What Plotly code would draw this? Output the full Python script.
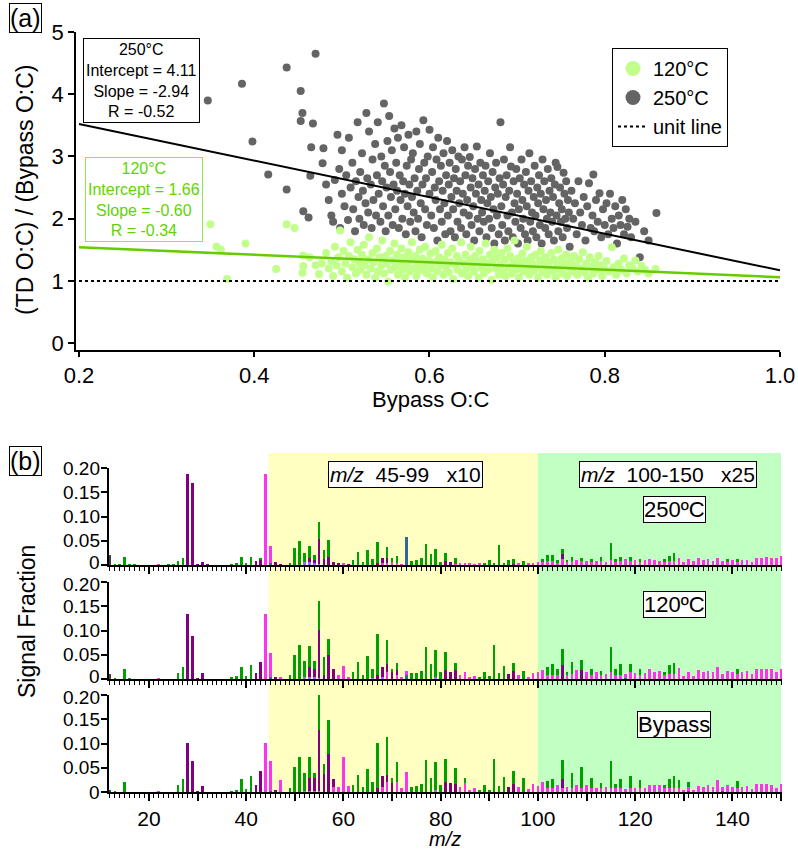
import plotly.graph_objects as go

# ---------------- panel (a): ratio of O:C vs bypass O:C ----------------
pts_250 = [
    (0.347, 3.90), (0.386, 4.17), (0.398, 3.24), (0.416, 2.71), (0.437, 4.43), (0.437, 2.47),
    (0.453, 4.05), (0.455, 3.70), (0.453, 3.57), (0.467, 3.53), (0.470, 4.65), (0.465, 3.15),
    (0.479, 3.13), (0.478, 2.89), (0.456, 2.12), (0.462, 2.02), (0.464, 2.69),
    (0.482, 2.55), (0.485, 2.30), (0.488, 2.05), (0.490, 1.95), (0.492, 2.62), (0.495, 3.35),
    (0.497, 2.80), (0.498, 1.85), (0.500, 2.40), (0.500, 3.10),
    (0.503, 2.20), (0.505, 2.70), (0.507, 1.98), (0.508, 3.30), (0.510, 2.50), (0.512, 2.90),
    (0.513, 2.15), (0.515, 1.80), (0.516, 2.60), (0.518, 3.55), (0.519, 2.35), (0.520, 2.00),
    (0.521, 2.75), (0.523, 3.05), (0.524, 2.45), (0.525, 1.90), (0.527, 2.25), (0.528, 3.70),
    (0.529, 2.65), (0.530, 2.10), (0.531, 3.40), (0.533, 2.55), (0.534, 1.85), (0.535, 2.95),
    (0.536, 2.30), (0.538, 3.20), (0.539, 2.05), (0.540, 2.70),
    (0.541, 3.55), (0.542, 2.40), (0.544, 1.95), (0.545, 3.00), (0.546, 2.60), (0.547, 2.20),
    (0.548, 3.85), (0.549, 2.85), (0.550, 1.80), (0.551, 2.50), (0.552, 3.25), (0.553, 2.05),
    (0.554, 3.65), (0.555, 2.75), (0.556, 2.35), (0.557, 3.10), (0.558, 1.90), (0.559, 2.55),
    (0.560, 3.45), (0.561, 2.15), (0.562, 2.90), (0.563, 2.45), (0.564, 3.30), (0.565, 1.85),
    (0.566, 2.70), (0.567, 2.30), (0.568, 3.50), (0.569, 2.00), (0.570, 2.60), (0.571, 3.15),
    (0.572, 2.40), (0.573, 1.75), (0.574, 2.85), (0.575, 2.20), (0.576, 3.35), (0.577, 2.55),
    (0.578, 1.95), (0.579, 2.95), (0.580, 2.35),
    (0.581, 3.05), (0.582, 2.10), (0.583, 2.65), (0.584, 1.80), (0.585, 3.40), (0.586, 2.45),
    (0.587, 2.00), (0.588, 2.80), (0.589, 3.20), (0.590, 2.25), (0.591, 1.70), (0.592, 2.55),
    (0.593, 3.58), (0.594, 2.90), (0.595, 2.15), (0.596, 2.65), (0.597, 1.90), (0.598, 3.00),
    (0.600, 3.43), (0.600, 2.40),
    (0.602, 2.05), (0.603, 2.75), (0.604, 3.15), (0.605, 1.85), (0.606, 2.50), (0.607, 2.30),
    (0.608, 2.95), (0.609, 1.65), (0.610, 3.30), (0.611, 2.60), (0.612, 2.15), (0.613, 2.85),
    (0.614, 1.95), (0.615, 2.45), (0.616, 3.05), (0.617, 2.25), (0.618, 1.75), (0.619, 2.70),
    (0.620, 3.25), (0.621, 2.05), (0.622, 2.55), (0.623, 2.90), (0.624, 1.80), (0.625, 2.35),
    (0.626, 3.10), (0.627, 2.15), (0.628, 2.65), (0.629, 1.70), (0.630, 2.80), (0.631, 2.45),
    (0.632, 1.95), (0.633, 3.00), (0.634, 2.25), (0.635, 2.60), (0.636, 1.85), (0.637, 2.95),
    (0.638, 2.40), (0.639, 2.10), (0.640, 3.15),
    (0.641, 2.70), (0.642, 1.75), (0.643, 2.30), (0.644, 2.85), (0.645, 2.05), (0.646, 2.99),
    (0.647, 2.50), (0.648, 1.90), (0.649, 2.65), (0.650, 2.20), (0.651, 1.65), (0.652, 2.80),
    (0.653, 2.40), (0.654, 3.16), (0.655, 2.00), (0.656, 2.55), (0.657, 1.80), (0.658, 2.90),
    (0.659, 2.30), (0.660, 2.10), (0.661, 2.70), (0.662, 1.95), (0.663, 2.45), (0.664, 2.85),
    (0.665, 1.70), (0.666, 2.25), (0.667, 2.60), (0.668, 2.00), (0.669, 3.05), (0.670, 2.35),
    (0.671, 1.85), (0.672, 2.75), (0.673, 2.15), (0.674, 1.60), (0.675, 2.50), (0.676, 2.90),
    (0.677, 2.05), (0.678, 2.40), (0.679, 1.75), (0.680, 2.65),
    (0.681, 3.55), (0.682, 2.20), (0.683, 1.90), (0.684, 2.55), (0.685, 2.95), (0.686, 1.65),
    (0.687, 2.35), (0.688, 2.70), (0.689, 2.05), (0.690, 1.80), (0.691, 2.45), (0.692, 3.15),
    (0.693, 2.84), (0.694, 2.10), (0.695, 1.70), (0.696, 2.60), (0.697, 2.25), (0.698, 1.95),
    (0.699, 2.80), (0.700, 2.40), (0.701, 1.60), (0.702, 2.15), (0.703, 2.65), (0.704, 1.85),
    (0.705, 2.95), (0.706, 2.30), (0.707, 2.00), (0.708, 2.55), (0.709, 1.75), (0.710, 2.75),
    (0.711, 2.20), (0.712, 1.65), (0.713, 2.45), (0.714, 3.05), (0.715, 1.95), (0.716, 2.60),
    (0.717, 2.10), (0.718, 1.80), (0.719, 2.35), (0.720, 2.85),
    (0.721, 2.05), (0.722, 1.70), (0.723, 2.50), (0.724, 2.25), (0.725, 2.70), (0.726, 1.90),
    (0.727, 2.40), (0.728, 1.60), (0.729, 2.95), (0.730, 2.15), (0.731, 2.60), (0.732, 1.85),
    (0.733, 2.30), (0.734, 2.00), (0.735, 2.80), (0.736, 1.75), (0.737, 2.45), (0.738, 2.10),
    (0.739, 2.65), (0.740, 1.95), (0.741, 2.35), (0.742, 1.65), (0.743, 2.55), (0.744, 2.90),
    (0.745, 2.05), (0.746, 2.83), (0.747, 1.80), (0.748, 2.25), (0.749, 2.50), (0.750, 1.95),
    (0.751, 2.15), (0.752, 1.70), (0.753, 2.74), (0.754, 2.40), (0.755, 2.00), (0.756, 2.60),
    (0.757, 1.85), (0.758, 2.30), (0.759, 2.10), (0.760, 1.55),
    (0.762, 2.45), (0.764, 2.00), (0.766, 2.25), (0.768, 1.75), (0.770, 2.60), (0.772, 2.10),
    (0.774, 1.90), (0.776, 2.35), (0.778, 1.65), (0.780, 2.20), (0.782, 2.57), (0.784, 1.85),
    (0.786, 2.05), (0.787, 2.71), (0.788, 1.80), (0.790, 2.30), (0.792, 1.95), (0.794, 2.41),
    (0.796, 1.70), (0.798, 2.15), (0.800, 1.90), (0.802, 2.25), (0.804, 1.75), (0.806, 2.40),
    (0.808, 2.00), (0.810, 1.85), (0.812, 2.20), (0.814, 1.60), (0.816, 2.05), (0.818, 1.90),
    (0.820, 2.30), (0.822, 1.75), (0.824, 2.15), (0.826, 1.87), (0.828, 2.00), (0.830, 1.70),
    (0.835, 1.95), (0.840, 1.38), (0.845, 1.80), (0.850, 1.65), (0.859, 2.09),
]

pts_120 = [
    (0.350, 1.91), (0.357, 1.55), (0.362, 1.50), (0.369, 1.03), (0.390, 1.60), (0.425, 1.19),
    (0.437, 1.91), (0.446, 1.85), (0.456, 1.41), (0.463, 1.38), (0.456, 1.24), (0.477, 1.28),
    (0.474, 1.11), (0.455, 1.13), (0.470, 1.25),
    (0.482, 1.45), (0.485, 1.20), (0.488, 1.32), (0.490, 1.08), (0.492, 1.55), (0.494, 1.25),
    (0.496, 1.38), (0.498, 1.81), (0.500, 1.15), (0.502, 1.48), (0.504, 1.28), (0.506, 1.05),
    (0.508, 1.40), (0.510, 1.62), (0.512, 1.22), (0.514, 1.35), (0.516, 1.12), (0.518, 1.50),
    (0.520, 1.30), (0.521, 1.18), (0.523, 1.42), (0.525, 1.58), (0.526, 1.25), (0.528, 1.10),
    (0.530, 1.35), (0.531, 1.70), (0.533, 1.20), (0.535, 1.45), (0.536, 1.30), (0.538, 1.05),
    (0.540, 1.52), (0.541, 1.15), (0.543, 1.38), (0.545, 1.25), (0.546, 1.65), (0.548, 1.12),
    (0.550, 1.40), (0.551, 1.28), (0.553, 0.99), (0.555, 1.48), (0.556, 1.18), (0.558, 1.33),
    (0.560, 1.60), (0.561, 1.22), (0.563, 1.42), (0.564, 1.10), (0.566, 1.30), (0.568, 1.52),
    (0.569, 1.18), (0.571, 1.38), (0.572, 1.05), (0.574, 1.26), (0.576, 1.46), (0.577, 1.15),
    (0.579, 1.34), (0.580, 1.62), (0.582, 1.20), (0.584, 1.40), (0.585, 1.08), (0.587, 1.28),
    (0.589, 1.50), (0.590, 1.17), (0.592, 1.36), (0.594, 1.24), (0.595, 1.55), (0.597, 1.12),
    (0.599, 1.32), (0.601, 1.44), (0.602, 1.20), (0.604, 1.06), (0.606, 1.30), (0.607, 1.48),
    (0.609, 1.16), (0.611, 1.38), (0.612, 1.25), (0.614, 1.58), (0.616, 1.10), (0.617, 1.34),
    (0.619, 1.22), (0.621, 1.45), (0.622, 1.14), (0.624, 1.30), (0.626, 1.52), (0.627, 1.03),
    (0.629, 1.26), (0.631, 1.40), (0.632, 1.18), (0.634, 1.33), (0.636, 1.62), (0.637, 1.12),
    (0.639, 1.28), (0.641, 1.42), (0.642, 1.20), (0.644, 1.08), (0.646, 1.35), (0.647, 1.55),
    (0.649, 1.24), (0.651, 1.15), (0.652, 1.40), (0.654, 1.30), (0.656, 1.05), (0.657, 1.48),
    (0.659, 1.22), (0.661, 1.35), (0.662, 1.12), (0.664, 1.60), (0.666, 1.28), (0.667, 1.18),
    (0.669, 1.42), (0.671, 1.02), (0.672, 1.32), (0.674, 1.50), (0.676, 1.20), (0.677, 1.38),
    (0.679, 1.10), (0.681, 1.26), (0.682, 1.45), (0.684, 1.15), (0.686, 1.34), (0.687, 1.08),
    (0.689, 1.52), (0.691, 1.22), (0.692, 1.40), (0.694, 1.12), (0.696, 1.30), (0.697, 1.65),
    (0.699, 1.18), (0.701, 1.36), (0.702, 1.05), (0.704, 1.25), (0.706, 1.44), (0.707, 1.15),
    (0.709, 1.32), (0.711, 1.55), (0.712, 1.20), (0.714, 1.10), (0.716, 1.38), (0.717, 1.28),
    (0.719, 1.16), (0.721, 1.42), (0.722, 1.22), (0.724, 1.05), (0.726, 1.33), (0.727, 1.48),
    (0.729, 1.14), (0.731, 1.26), (0.732, 1.38), (0.734, 1.10), (0.736, 1.30), (0.737, 1.20),
    (0.739, 1.45), (0.741, 1.16), (0.742, 1.34), (0.744, 1.06), (0.746, 1.25), (0.747, 1.50),
    (0.749, 1.18), (0.751, 1.36), (0.752, 1.12), (0.754, 1.28), (0.756, 1.42), (0.757, 1.08),
    (0.759, 1.22), (0.761, 1.32), (0.763, 1.15), (0.765, 1.40), (0.767, 1.25), (0.769, 1.10),
    (0.771, 1.35), (0.773, 1.20), (0.775, 1.46), (0.777, 1.14), (0.779, 1.28), (0.781, 1.05),
    (0.783, 1.38), (0.785, 1.22), (0.787, 1.12), (0.789, 1.30), (0.791, 1.18), (0.793, 1.40),
    (0.795, 1.25), (0.797, 1.08), (0.799, 1.20), (0.802, 1.32), (0.805, 1.15), (0.808, 1.54),
    (0.810, 1.22), (0.813, 1.10), (0.816, 1.28), (0.819, 1.18), (0.822, 1.36), (0.825, 1.12),
    (0.828, 1.25), (0.832, 1.20), (0.835, 1.33), (0.838, 1.15), (0.842, 1.24), (0.846, 1.18),
    (0.850, 1.12), (0.858, 1.19),
]

fit_250 = {"intercept": 4.11, "slope": -2.94, "r": -0.52}
fit_120 = {"intercept": 1.66, "slope": -0.60, "r": -0.34}
fit_x = [0.2, 1.0]

# ---------------- panel (b): mass spectra, m/z 12-150 ----------------
MZ = list(range(12, 151))

ch_250 = {13: .002, 14: .001, 15: .016, 16: .001, 17: .001, 24: .001, 25: .001, 26: .008, 27: .014,
          37: .001, 38: .003, 39: .016, 40: .004, 41: .016, 43: .002, 49: .005, 50: .036, 51: .049,
          52: .018, 53: .026, 54: .010, 55: .035, 56: .018, 57: .034, 62: .010, 63: .027, 64: .007,
          65: .031, 66: .012, 67: .043, 69: .024, 70: .008, 71: .014, 74: .009, 75: .011, 76: .014,
          77: .043, 78: .022, 79: .032, 80: .007, 81: .016, 83: .012, 89: .003, 90: .010, 91: .005,
          92: .041, 93: .005, 94: .010, 95: .010, 97: .008, 101: .004, 102: .012, 103: .012,
          104: .004, 105: .012, 106: .005, 107: .008, 109: .007, 111: .004, 113: .008, 115: .035,
          116: .004, 117: .008, 119: .007, 121: .004, 126: .004, 127: .009, 128: .015, 139: .004,
          141: .004}
cho1_250 = {28: .187, 29: .170, 30: .002, 31: .006, 32: .001, 42: .008, 43: .012, 46: .007, 47: .002,
            53: .008, 54: .005, 55: .051, 56: .012, 57: .017, 58: .007, 59: .003, 61: .002, 67: .005,
            68: .009, 69: .010, 81: .009, 82: .007, 95: .003, 105: .010}
chogt1_250 = {22: .002, 44: .187, 45: .036, 60: .005, 68: .005, 69: .004, 70: .007, 71: .005, 72: .002,
              83: .003, 84: .005, 85: .005, 86: .003, 87: .002, 88: .003, 96: .005, 98: .005, 99: .005,
              100: .007, 101: .008, 102: .008, 103: .008, 104: .006, 105: .012, 106: .006, 107: .008,
              108: .010, 109: .008, 110: .009, 111: .008, 112: .009, 113: .008, 114: .007, 115: .010,
              116: .008, 117: .009, 118: .012, 119: .009, 120: .010, 121: .008, 122: .010, 123: .012,
              124: .010, 125: .009, 126: .008, 127: .009, 128: .009, 129: .014, 130: .007, 131: .012,
              132: .009, 133: .014, 134: .010, 135: .012, 136: .009, 137: .015, 138: .009, 139: .008,
              140: .010, 141: .008, 142: .010, 143: .010, 144: .007, 145: .015, 146: .015, 147: .017,
              148: .015, 149: .015, 150: .018}
cx_250 = {12: .020}
chn_250 = {45: .004, 73: .058}
chon_250 = {52: .007, 53: .006, 54: .005, 55: .002}

ch_120 = {13: .002, 15: .020, 16: .002, 26: .012, 27: .024, 37: .003, 38: .006, 39: .025, 40: .006,
          41: .028, 49: .008, 50: .049, 51: .071, 52: .033, 53: .045, 54: .017, 55: .058, 56: .037,
          57: .032, 62: .015, 63: .036, 64: .008, 65: .048, 66: .018, 67: .084, 69: .051, 70: .006,
          71: .014, 74: .012, 75: .013, 76: .017, 77: .067, 78: .030, 79: .056, 80: .014, 81: .036,
          83: .014, 88: .005, 89: .015, 90: .006, 91: .070, 92: .012, 93: .027, 95: .016, 97: .016,
          102: .016, 103: .023, 104: .012, 105: .033, 106: .006, 107: .025, 109: .020, 111: .012,
          113: .008, 115: .051, 116: .012, 117: .022, 119: .016, 121: .012, 126: .007, 127: .019,
          128: .024, 141: .010}
cho1_120 = {28: .133, 29: .088, 30: .002, 31: .012, 42: .013, 43: .035, 46: .005, 53: .020, 54: .016,
            55: .100, 56: .008, 57: .050, 58: .021, 67: .009, 68: .020, 69: .016, 70: .015, 71: .011,
            81: .019, 82: .015, 83: .019, 94: .010, 95: .016, 105: .029, 109: .019}
chogt1_120 = {22: .002, 44: .134, 45: .049, 47: .003, 59: .009, 60: .027, 61: .005, 69: .014, 71: .008,
              72: .004, 73: .008, 84: .008, 85: .014, 86: .003, 87: .006, 96: .008, 98: .005, 99: .012,
              100: .015, 101: .018, 102: .008, 103: .008, 104: .009, 106: .008, 107: .010, 108: .018,
              110: .015, 111: .009, 112: .015, 113: .009, 114: .010, 115: .015, 116: .009, 117: .009,
              118: .008, 119: .015, 120: .012, 121: .009, 122: .012, 123: .021, 124: .015, 125: .016,
              126: .008, 127: .010, 128: .010, 129: .022, 130: .006, 131: .015, 132: .006, 133: .018,
              134: .015, 135: .016, 136: .015, 137: .025, 138: .010, 139: .017, 140: .015, 141: .010,
              142: .015, 143: .016, 144: .010, 145: .021, 146: .021, 147: .021, 148: .021, 149: .015,
              150: .021}
cx_120 = {12: .011}
chn_120 = {45: .004, 73: .008, 118: .002}
chon_120 = {52: .004, 53: .004, 54: .004, 55: .002, 66: .003, 68: .005, 79: .004}

ch_byp = {13: .002, 15: .021, 26: .014, 27: .027, 37: .002, 38: .005, 39: .027, 40: .007, 41: .032,
          49: .008, 50: .052, 51: .072, 52: .036, 53: .044, 54: .010, 55: .071, 56: .019, 57: .069,
          62: .014, 63: .035, 64: .010, 65: .048, 66: .021, 67: .093, 69: .078, 70: .010, 71: .041,
          74: .010, 75: .012, 76: .017, 77: .067, 78: .028, 79: .057, 80: .014, 81: .047, 83: .033,
          85: .010, 88: .005, 89: .014, 90: .005, 91: .069, 92: .012, 93: .030, 95: .027, 97: .028,
          102: .015, 103: .019, 105: .040, 107: .031, 109: .044, 111: .021, 113: .010, 115: .056,
          116: .009, 117: .019, 119: .026, 121: .016, 126: .007, 127: .019, 128: .026, 129: .017,
          131: .009, 141: .014}
cho1_byp = {28: .101, 29: .064, 30: .002, 31: .013, 42: .014, 43: .043, 46: .003, 53: .026, 54: .026,
            55: .125, 56: .038, 57: .079, 58: .016, 67: .008, 68: .022, 69: .016, 70: .019, 81: .021,
            82: .019, 83: .017, 94: .010, 95: .016, 105: .019}
chogt1_byp = {22: .001, 44: .101, 45: .062, 47: .024, 58: .010, 59: .011, 60: .072, 61: .012, 68: .010,
              69: .020, 71: .021, 72: .008, 73: .041, 84: .010, 85: .019, 86: .005, 87: .009, 96: .010,
              98: .007, 99: .016, 100: .012, 101: .020, 102: .008, 103: .008, 104: .014, 105: .008,
              106: .010, 107: .008, 108: .014, 109: .008, 110: .014, 111: .008, 112: .009, 113: .008,
              114: .010, 115: .008, 116: .008, 117: .008, 118: .007, 119: .008, 120: .009, 121: .008,
              122: .009, 123: .015, 124: .014, 125: .015, 126: .008, 127: .008, 128: .008, 129: .008,
              130: .005, 131: .008, 132: .005, 133: .012, 134: .010, 135: .014, 136: .010, 137: .024,
              138: .007, 139: .014, 140: .010, 141: .008, 142: .010, 143: .012, 144: .007, 145: .016,
              146: .016, 147: .016, 148: .015, 149: .008, 150: .016}
cx_byp = {12: .005}
chn_byp = {45: .002, 131: .003, 138: .003}
chon_byp = {52: .003, 53: .003, 54: .003, 55: .003, 79: .004}

panel_labels = ["250ºC", "120ºC", "Bypass"]
b_yticks = [0, 0.05, 0.10, 0.15, 0.20]
b_yticktext = ["0", "0.05", "0.10", "0.15", "0.20"]

W, H = 798, 851
FONT = "Liberation Sans, Arial, sans-serif"


def px(x):
    return x / W


def py(y):
    return 1 - y / H


def col(d):
    return [d.get(m, 0.0) for m in MZ]


fig = go.Figure()

# ---- panel (a) traces ----
gx, gy = zip(*pts_250)
lx, ly = zip(*pts_120)
fig.add_trace(go.Scatter(x=gx, y=gy, mode="markers", showlegend=False,
                         marker=dict(size=8, color="#646464"), xaxis="x", yaxis="y"))
fig.add_trace(go.Scatter(x=lx, y=ly, mode="markers", showlegend=False,
                         marker=dict(size=8, color="#C2FF8A"), xaxis="x", yaxis="y"))
fig.add_trace(go.Scatter(x=fit_x, y=[1, 1], mode="lines", showlegend=False,
                         line=dict(color="black", width=2, dash="dot"), xaxis="x", yaxis="y"))
for fit, c, w in [(fit_250, "black", 2), (fit_120, "#66CC00", 2.5)]:
    fig.add_trace(go.Scatter(x=fit_x, y=[fit["intercept"] + fit["slope"] * v for v in fit_x],
                             mode="lines", showlegend=False, line=dict(color=c, width=w),
                             xaxis="x", yaxis="y"))

# legend-only entries
fig.add_trace(go.Scatter(x=[None], y=[None], mode="markers", name="120°C",
                         marker=dict(size=15, color="#C2FF8A"), xaxis="x", yaxis="y"))
fig.add_trace(go.Scatter(x=[None], y=[None], mode="markers", name="250°C",
                         marker=dict(size=15, color="#646464"), xaxis="x", yaxis="y"))
fig.add_trace(go.Scatter(x=[None], y=[None], mode="lines", name="unit line",
                         line=dict(color="black", width=2, dash="dot"), xaxis="x", yaxis="y"))

# ---- panel (b) traces ----
families = [("chon", "#9966FF"), ("chn", "#336699"), ("cx", "#404040"),
            ("chogt1", "#FF33EE"), ("cho1", "#800080"), ("ch", "#00A000")]
panels = [
    {"chon": chon_250, "chn": chn_250, "cx": cx_250, "chogt1": chogt1_250, "cho1": cho1_250, "ch": ch_250},
    {"chon": chon_120, "chn": chn_120, "cx": cx_120, "chogt1": chogt1_120, "cho1": cho1_120, "ch": ch_120},
    {"chon": chon_byp, "chn": chn_byp, "cx": cx_byp, "chogt1": chogt1_byp, "cho1": cho1_byp, "ch": ch_byp},
]
for i, p in enumerate(panels):
    ax = str(i + 2)
    for fam, c in families:
        fig.add_trace(go.Bar(x=MZ, y=col(p[fam]), width=0.55, marker=dict(color=c, line=dict(width=0)),
                             showlegend=False, xaxis="x" + ax, yaxis="y" + ax))

# ---- axes ----
axis_common = dict(showline=True, linecolor="black", linewidth=1.5, ticks="outside",
                   tickcolor="black", tickwidth=1.5, showgrid=False, zeroline=False,
                   automargin=False,
                   tickfont=dict(family=FONT, size=22, color="black"))

fig.update_layout(
    xaxis=dict(axis_common, domain=[px(76), px(780)], range=[0.1966, 1.0], anchor="y",
               tickvals=[0.2, 0.4, 0.6, 0.8, 1.0], ticktext=["0.2", "0.4", "0.6", "0.8", "1.0"],
               ticklen=5),
    yaxis=dict(axis_common, domain=[py(350), py(32)], range=[-0.11, 5.0], anchor="x",
               tickvals=[0, 1, 2, 3, 4, 5], ticklen=6),
)

b_bottoms = [565, 679, 792]
for i, base in enumerate(b_bottoms):
    ax = str(i + 2)
    fig.update_layout({
        "xaxis" + ax: dict(axis_common, domain=[px(109), px(782)], range=[11.8, 150.2],
                           anchor="y" + ax, tickmode="array",
                           tickvals=list(range(20, 151, 10)),
                           ticktext=[str(v) if v % 20 == 0 else "" for v in range(20, 151, 10)],
                           ticklen=7, showticklabels=(i == 2),
                           tickfont=dict(family=FONT, size=21, color="black"),
                           minor=dict(ticks="outside", tick0=0, dtick=1, ticklen=4,
                                      tickcolor="black", tickwidth=1)),
        "yaxis" + ax: dict(axis_common, domain=[py(base), py(base - 97)], range=[0, 0.2],
                           anchor="x" + ax, tickvals=b_yticks, ticklen=6, showticklabels=False),
    })

# ---- shading for scaled regions ----
shade_y = [py(792), py(453)]
fig.add_shape(type="rect", xref="x4", yref="paper", x0=44.6, x1=100, y0=shade_y[0], y1=shade_y[1],
              fillcolor="#FFFFC2", line_width=0, layer="below")
fig.add_shape(type="rect", xref="x4", yref="paper", x0=100, x1=150, y0=shade_y[0], y1=shade_y[1],
              fillcolor="#C2FFC2", line_width=0, layer="below")

# ---- annotations ----
ann = []


def add_text(text, x, y, size=18, color="black", box=None, angle=0, pad=2, bg=None):
    a = dict(text=text, x=px(x), y=py(y), xref="paper", yref="paper", showarrow=False,
             xanchor="center", yanchor="middle", textangle=angle,
             font=dict(family=FONT, size=size, color=color))
    if box:
        a.update(bordercolor=box, borderwidth=1, borderpad=pad, bgcolor=bg or "white")
    ann.append(a)


add_text("(a)", 25, 18, size=25, box="black", pad=0)
add_text("(b)", 25, 461, size=25, box="black", pad=0)
add_text("(TD O:C) / (Bypass O:C)", 25, 190, size=23, angle=-90)
add_text("Bypass O:C", 430, 399, size=22)
add_text("Signal Fraction", 27, 622, size=23, angle=-90)
add_text("<i>m/z</i>", 445, 839, size=20)

add_text("250°C<br>Intercept = %.2f<br>Slope = %.2f<br>R = %.2f"
         % (fit_250["intercept"], fit_250["slope"], fit_250["r"]),
         141, 81, size=16, box="black", pad=2)
add_text("120°C<br>Intercept = %.2f<br>Slope = %.2f<br>R = %.2f"
         % (fit_120["intercept"], fit_120["slope"], fit_120["r"]),
         144, 200, size=16, color="#5FD400", box="#8EEA4C", pad=2)

nb = "\u00a0"
add_text("<i>m/z</i>" + nb * 2 + "45-99" + nb * 3 + "x10", 405, 474, size=21, box="black", pad=1)
add_text("<i>m/z</i>" + nb * 2 + "100-150" + nb * 3 + "x25", 668, 474, size=21, box="black", pad=1)
for lab, yc in zip(panel_labels, [510, 604, 724]):
    add_text(lab, 674, yc, size=22, box="black", pad=0)

# y tick labels of the stacked spectra (the 0 / 0.20 labels nudged apart where panels meet)
for i in range(3):
    for v, t in zip(b_yticks, b_yticktext):
        shift = 0
        if v == 0 and i < 2:
            shift = 3
        if v == 0.20 and i > 0:
            shift = -2
        ann.append(dict(text=t, x=px(102), y=v, xref="paper", yref="y" + str(i + 2),
                        showarrow=False, xanchor="right", yanchor="middle", yshift=shift,
                        font=dict(family=FONT, size=19, color="black")))

fig.update_layout(
    width=W, height=H,
    margin=dict(l=0, r=0, t=0, b=0, pad=0),
    paper_bgcolor="white",
    plot_bgcolor="rgba(0,0,0,0)",
    barmode="stack",
    bargap=0,
    annotations=ann,
    font=dict(family=FONT, color="black"),
    legend=dict(x=px(612), y=py(48), xanchor="left", yanchor="top",
                bordercolor="black", borderwidth=1, bgcolor="white",
                font=dict(family=FONT, size=20, color="black"),
                traceorder="normal", tracegroupgap=0, itemwidth=30),
)

# page body margin would push the 798x851 figure out of the window
fig.write_html("out.html", config={"displayModeBar": False},
               post_script="document.body.style.margin = '0px';")
